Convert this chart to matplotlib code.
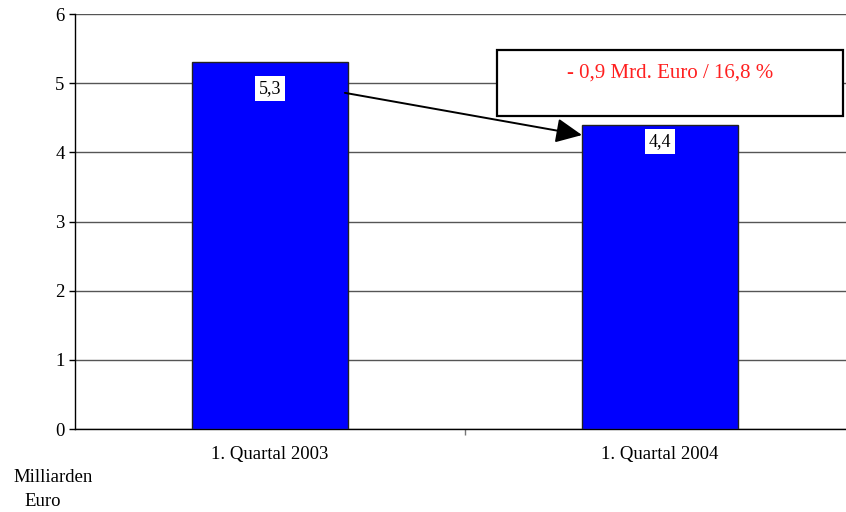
import matplotlib
matplotlib.use("Agg")
import matplotlib.pyplot as plt
from matplotlib.patches import Rectangle

categories = ["1. Quartal 2003", "1. Quartal 2004"]
values = [5.3, 4.4]
value_labels = ["5,3", "4,4"]
label_offsets = [-18.5, -12]  # points below bar top
yticks = [0, 1, 2, 3, 4, 5, 6]
change_text = "- 0,9 Mrd. Euro / 16,8 %"

plt.rcParams['font.family'] = ['Liberation Serif', 'DejaVu Serif']

W, H = 846, 512
fig = plt.figure(figsize=(W / 100, H / 100), dpi=100)
ax = fig.add_axes([75 / W, (H - 429) / H, 780 / W, 415 / H])

x = list(range(len(categories)))
bw = 0.4
ax.bar(x, values, width=bw, color="#0000FF", edgecolor="#222222", linewidth=1, zorder=3)

ax.set_xlim(-0.5, 1.5)
ax.set_ylim(0, 6)
ax.set_yticks(yticks)
ax.set_yticklabels([str(t) for t in yticks], fontsize=13.5)
ax.yaxis.grid(True, color="#555555", linewidth=1)
ax.set_axisbelow(True)
ax.tick_params(axis='y', direction='out', length=4, width=1, color="black", pad=3.5)

ax.set_xticks([0.5])
ax.set_xticklabels([""])
ax.tick_params(axis='x', direction='out', length=4, width=1, color="#777777")
for i, c in enumerate(categories):
    ax.annotate(c, xy=(i, 0), xytext=(0, -18.5), textcoords='offset points',
                ha='center', va='center', fontsize=13.5, annotation_clip=False)

for s in ['top', 'right']:
    ax.spines[s].set_visible(False)
ax.spines['left'].set_linewidth(1)
ax.spines['bottom'].set_linewidth(1)

for i, (v, lab, off) in enumerate(zip(values, value_labels, label_offsets)):
    ax.annotate(lab, xy=(i, v), xytext=(0, off), textcoords='offset points',
                ha='center', va='center', fontsize=13,
                bbox=dict(boxstyle='square,pad=0.22', fc='white', ec='none'), zorder=5)

# arrow from bar 1 right edge to bar 2 left edge
ax.annotate("", xy=(1 - bw / 2, values[1] - 0.15), xytext=(bw / 2 - 0.008, values[0] - 0.44),
            arrowprops=dict(arrowstyle='-|>,head_length=1.6,head_width=0.75', color='black',
                            lw=1.4, shrinkA=0, shrinkB=0, mutation_scale=10), zorder=6)

# change box
fig.patches.append(Rectangle((497 / W, (H - 116) / H), 346 / W, 66 / H,
                             transform=fig.transFigure, fc='white', ec='black', lw=1.6, zorder=10))
fig.text(670 / W, (H - 73.5) / H, change_text, color='#FF2020', fontsize=15,
         ha='center', va='center', zorder=11)

fig.text(53 / W, (H - 477) / H, "Milliarden", ha='center', va='center', fontsize=13.5)
fig.text(43 / W, (H - 501) / H, "Euro", ha='center', va='center', fontsize=13.5)

fig.savefig("out.png", dpi=100)
